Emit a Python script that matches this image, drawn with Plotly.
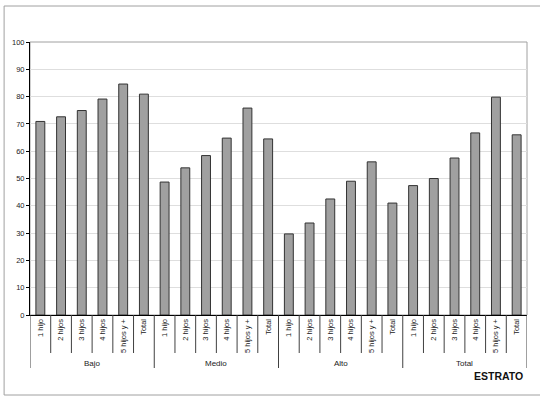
import plotly.graph_objects as go

groups = ["Bajo", "Medio", "Alto", "Total"]
categories = ["1 hijo", "2 hijos", "3 hijos", "4 hijos", "5 hijos y +", "Total"]
bajo = [70.9, 72.6, 74.9, 79.1, 84.6, 80.9]
medio = [48.7, 53.9, 58.4, 64.8, 75.8, 64.5]
alto = [29.7, 33.7, 42.5, 49.0, 56.1, 41.0]
total = [47.4, 50.0, 57.5, 66.7, 79.8, 66.0]
y_ticks = list(range(0, 101, 10))
axis_title = "ESTRATO"

series = [bajo, medio, alto, total]
values = [v for s in series for v in s]
n_cat = len(categories)
positions = list(range(len(values)))
tick_text = categories * len(groups)

FONT = "Liberation Sans, Arial, sans-serif"
W, H = 540, 397
ML, MR, MT, MB = 28, 13, 42, 82
PH = H - MT - MB

fig = go.Figure()
fig.add_trace(go.Bar(
    x=positions, y=values,
    marker=dict(color="#a0a0a0", line=dict(color="#333333", width=1)),
    width=0.43,
    hoverinfo="y",
))

shapes = []
# outer chart border
shapes.append(dict(type="rect", xref="paper", yref="paper",
                   x0=(2 - ML) / (W - ML - MR), x1=(545 - ML) / (W - ML - MR),
                   y0=-(395 - MT - PH) / PH, y1=1 + (MT - 6) / PH,
                   line=dict(color="#a0a0a0", width=1), layer="below"))
# plot area border
shapes.append(dict(type="rect", xref="paper", yref="paper", x0=0, x1=1, y0=0, y1=1,
                   line=dict(color="#a0a0a0", width=1), layer="below"))
# dividers
for b in range(len(values) + 1):
    xb = b - 0.5
    depth = 53 if b % n_cat == 0 else 38
    shapes.append(dict(type="line", xref="x", yref="paper", x0=xb, x1=xb,
                       y0=0, y1=-depth / PH, line=dict(color="#404040", width=1)))

annotations = []
for gi, g in enumerate(groups):
    annotations.append(dict(
        x=gi * n_cat + (n_cat - 1) / 2, y=-(363 - MT - PH) / PH,
        xref="x", yref="paper", text=g, showarrow=False,
        xanchor="center", yanchor="middle",
        font=dict(family=FONT, size=8, color="#222222")))
annotations.append(dict(
    x=1 + (-2) / (W - ML - MR), y=-(376 - MT - PH) / PH, xref="paper", yref="paper",
    text="<b>" + axis_title + "</b>", showarrow=False,
    xanchor="right", yanchor="middle",
    font=dict(family=FONT, size=10.5, color="#111111")))

fig.update_layout(
    width=W, height=H,
    margin=dict(l=ML, r=MR, t=MT, b=MB, pad=0),
    paper_bgcolor="white", plot_bgcolor="white",
    showlegend=False,
    shapes=shapes, annotations=annotations,
    xaxis=dict(
        range=[-0.5, len(values) - 0.5],
        tickmode="array", tickvals=positions, ticktext=tick_text,
        tickangle=-90, ticks="", showgrid=False, zeroline=False,
        showline=True, linecolor="#000000", linewidth=1,
        tickfont=dict(family=FONT, size=7.5, color="#222222"),
        fixedrange=True,
    ),
    yaxis=dict(
        range=[0, 100], tickmode="array", tickvals=y_ticks,
        ticks="outside", ticklen=3, tickcolor="#000000",
        showline=True, linecolor="#000000", linewidth=1,
        showgrid=True, gridcolor="#dedede", gridwidth=1, zeroline=False,
        tickfont=dict(family=FONT, size=7.5, color="#222222"),
        fixedrange=True,
    ),
)

fig.write_html("out.html")
